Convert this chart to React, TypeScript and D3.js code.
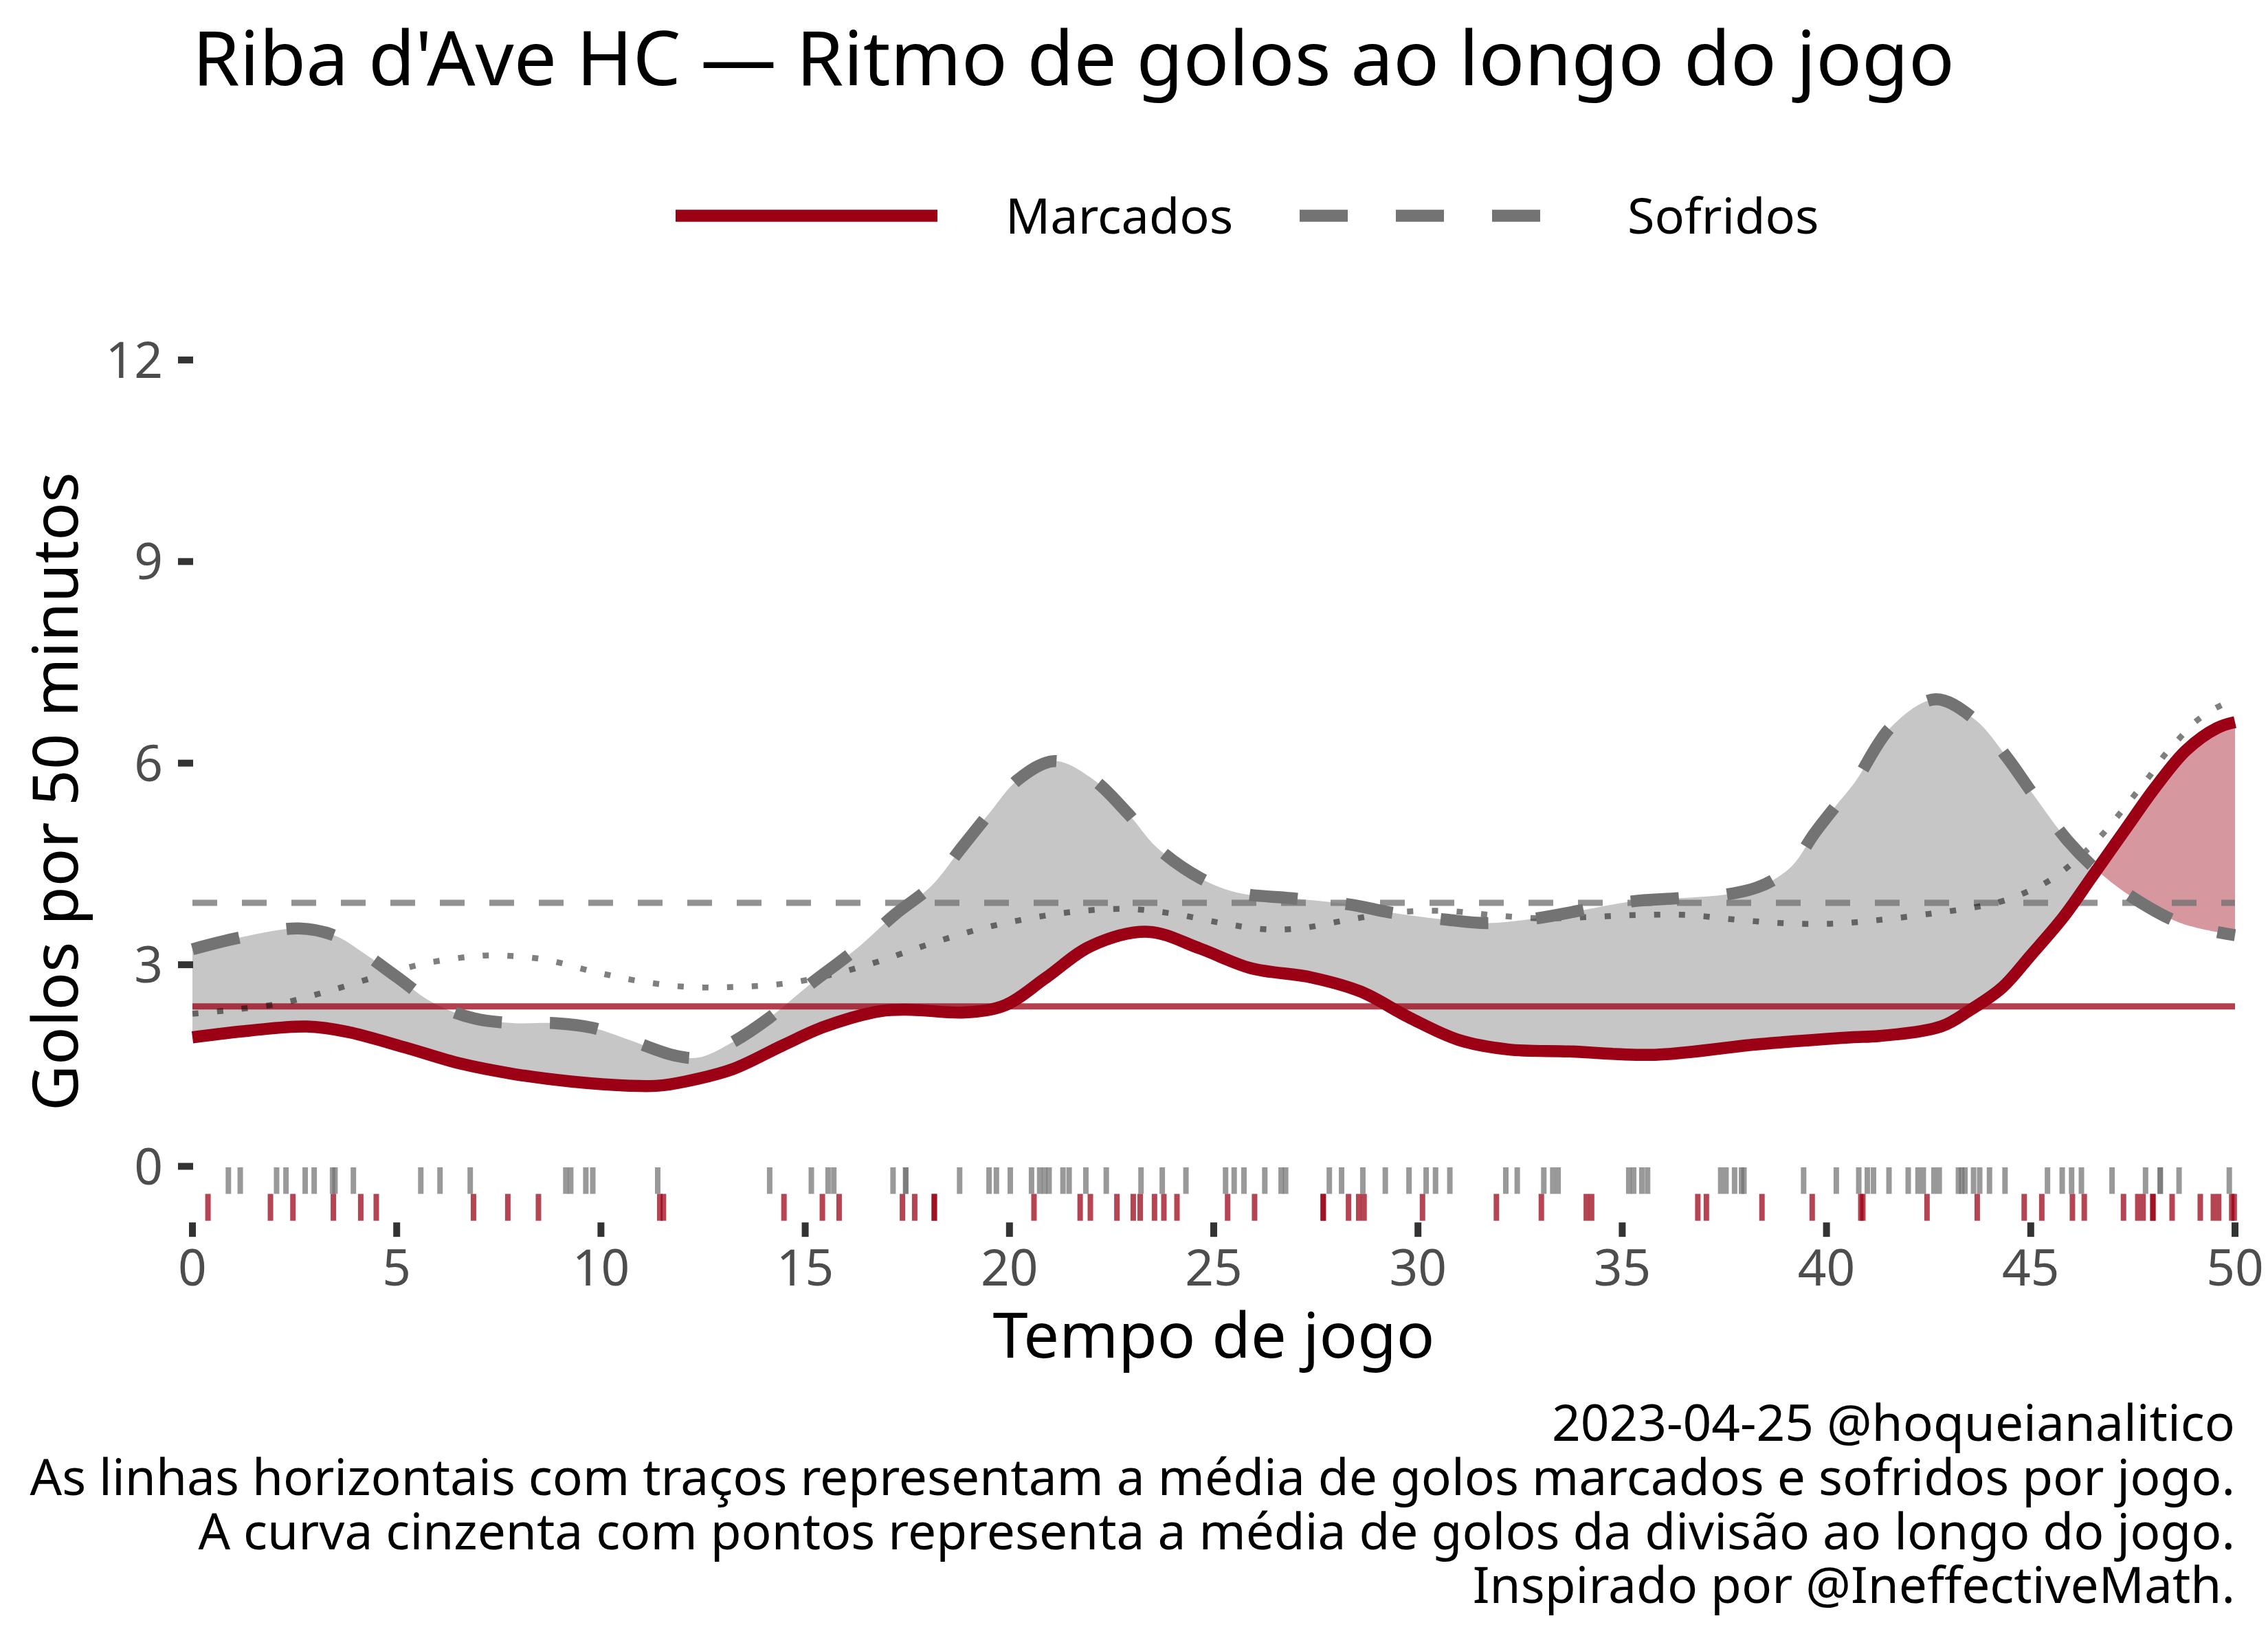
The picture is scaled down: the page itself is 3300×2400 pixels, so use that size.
import React from 'react';
import * as d3 from 'd3';

// ---------- data ----------
const TITLE = "Riba d'Ave HC — Ritmo de golos ao longo do jogo";
const legendLabels = ['Marcados', 'Sofridos'];
const xTicks = [0, 5, 10, 15, 20, 25, 30, 35, 40, 45, 50];
const yTicks = [0, 3, 6, 9, 12];
const xTitle = 'Tempo de jogo';
const yTitle = 'Golos por 50 minutos';
const captionLines = [
  '2023-04-25 @hoqueianalitico',
  'As linhas horizontais com traços representam a média de golos marcados e sofridos por jogo.',
  'A curva cinzenta com pontos representa a média de golos da divisão ao longo do jogo.',
  'Inspirado por @IneffectiveMath.',
];

const sofridosMin = [0, 1.2, 2.6, 3.5, 4.2, 5.0, 5.9, 6.9, 7.9, 8.9, 9.8, 10.7, 11.8, 12.4, 13.2, 14.1, 15.1, 16.2, 17.2, 18.1, 18.8, 19.5, 20.2, 21.1, 22.0, 22.9, 23.6, 24.7, 25.6, 26.9, 28.4, 29.3, 30.7, 31.7, 32.9, 34.0, 35.2, 36.4, 37.6, 38.3, 38.8, 39.2, 39.7, 40.25, 40.7, 41.6, 42.67, 43.65, 44.4, 45.1, 45.9, 46.65, 47.5, 48.67, 50];
const sofridosVal = [3.23, 3.41, 3.54, 3.43, 3.17, 2.82, 2.43, 2.2, 2.13, 2.13, 2.06, 1.88, 1.65, 1.62, 1.84, 2.2, 2.7, 3.21, 3.75, 4.18, 4.72, 5.25, 5.75, 6.03, 5.78, 5.25, 4.75, 4.28, 4.07, 3.99, 3.89, 3.78, 3.67, 3.62, 3.69, 3.81, 3.94, 3.99, 4.05, 4.15, 4.3, 4.5, 4.95, 5.38, 5.72, 6.55, 6.95, 6.64, 6.1, 5.5, 4.85, 4.39, 4.0, 3.62, 3.44];

const marcadosMin = [0, 1.4, 2.8, 3.8, 5.2, 6.55, 7.9, 9.3, 10.7, 11.4, 12.05, 13.24, 14.45, 15.48, 16.85, 17.6, 18.9, 19.9, 20.9, 22.0, 23.4, 24.67, 25.9, 27.4, 28.6, 29.8, 31.0, 32.2, 33.7, 35.8, 38.2, 39.0, 40.6, 41.3, 42.8, 43.5, 44.3, 45.0, 45.8, 46.5, 47.3, 48.05, 48.8, 49.55, 50];
const marcadosVal = [1.92, 2.02, 2.08, 2.0, 1.77, 1.53, 1.37, 1.26, 1.2, 1.2, 1.26, 1.45, 1.8, 2.08, 2.31, 2.33, 2.29, 2.4, 2.81, 3.28, 3.49, 3.24, 2.95, 2.81, 2.6, 2.21, 1.88, 1.74, 1.71, 1.66, 1.81, 1.85, 1.92, 1.94, 2.08, 2.32, 2.66, 3.14, 3.71, 4.31, 5.0, 5.64, 6.19, 6.52, 6.61];

const divisaoMin = [0, 1.0, 2.2, 3.4, 4.6, 5.7, 6.8, 7.4, 8.6, 9.8, 10.9, 12.1, 13.3, 14.5, 15.7, 16.8, 18.0, 19.2, 20.4, 21.6, 22.9, 24.0, 25.2, 26.2, 27.1, 28.3, 29.5, 30.7, 31.8, 33.0, 34.2, 35.4, 36.6, 37.8, 38.9, 40.1, 41.35, 42.56, 43.16, 43.76, 44.33, 44.89, 45.42, 45.9, 46.35, 46.77, 47.14, 47.52, 47.9, 48.25, 48.64, 49.06, 49.56, 50];
const divisaoVal = [2.27, 2.33, 2.43, 2.62, 2.84, 3.02, 3.12, 3.14, 3.08, 2.9, 2.76, 2.67, 2.67, 2.72, 2.86, 3.05, 3.3, 3.52, 3.68, 3.79, 3.83, 3.76, 3.62, 3.53, 3.54, 3.67, 3.78, 3.8, 3.74, 3.69, 3.71, 3.74, 3.74, 3.67, 3.62, 3.61, 3.67, 3.76, 3.81, 3.87, 3.95, 4.08, 4.24, 4.45, 4.69, 4.95, 5.22, 5.51, 5.8, 6.1, 6.37, 6.63, 6.83, 6.95];

const mediaMarcados = 2.38;
const mediaSofridos = 3.92;

const golosSofridos = [0.88, 1.17, 2.06, 2.29, 2.76, 2.98, 3.43, 3.49, 3.94, 5.59, 6.06, 6.8, 9.14, 9.26, 9.63, 9.8, 11.39, 14.13, 15.15, 15.56, 15.7, 17.15, 17.46, 17.46, 18.78, 19.5, 19.68, 20.02, 20.54, 20.74, 20.86, 20.97, 21.31, 21.46, 21.87, 22.37, 23.22, 23.74, 24.32, 25.29, 25.5, 25.74, 26.25, 26.65, 26.76, 27.83, 28.13, 28.65, 29.2, 29.78, 30.2, 30.43, 30.78, 32.15, 32.43, 33.08, 33.3, 33.43, 35.16, 35.28, 35.48, 35.62, 37.41, 37.54, 37.75, 37.92, 37.98, 39.44, 40.24, 40.79, 41.0, 41.15, 41.53, 42.0, 42.24, 42.37, 42.63, 42.76, 43.23, 43.31, 43.39, 43.6, 43.75, 43.99, 44.37, 45.41, 45.77, 46.0, 46.24, 46.99, 47.81, 48.17, 48.17, 48.63, 49.86];
const golosMarcados = [0.38, 1.91, 2.46, 3.45, 4.12, 4.5, 6.88, 7.72, 8.47, 11.44, 11.53, 14.48, 15.42, 15.83, 17.38, 17.68, 18.16, 18.16, 20.6, 21.73, 21.98, 22.63, 23.03, 23.2, 23.55, 23.78, 24.1, 25.34, 26.0, 27.68, 27.68, 28.3, 28.55, 28.68, 30.11, 31.92, 33.02, 34.12, 34.25, 36.85, 37.06, 38.42, 39.65, 40.84, 40.89, 42.46, 43.69, 44.84, 45.27, 46.02, 46.31, 47.27, 47.62, 47.75, 47.99, 47.99, 48.46, 49.15, 49.47, 49.6, 49.92, 49.98];

// ---------- styling ----------
const RED = '#9b0014';
const GREY = '#737373';
const FILL_GREY = '#c6c6c6';
const FILL_RED = '#d6979e';
const FONT = "'Noto Sans', 'Open Sans', sans-serif";
const W = 3300;
const H = 2400;

export default function App() {
  const x = d3.scaleLinear().domain([0, 50]).range([280, 3252]);
  const y = d3.scaleLinear().domain([0, 12]).range([1697.5, 523.9]);

  const sof = sofridosMin.map((m, i) => [m, sofridosVal[i]] as [number, number]);
  const mar = marcadosMin.map((m, i) => [m, marcadosVal[i]] as [number, number]);
  const div = divisaoMin.map((m, i) => [m, divisaoVal[i]] as [number, number]);

  const curve = d3.curveCatmullRom.alpha(0.5);
  const line = d3
    .line<[number, number]>()
    .x((d) => x(d[0]))
    .y((d) => y(d[1]))
    .curve(curve);

  const bottomPx = y(-1.2);
  const topPx = y(13);
  const below = d3
    .area<[number, number]>()
    .x((d) => x(d[0]))
    .y0(bottomPx)
    .y1((d) => y(d[1]))
    .curve(curve);
  const above = d3
    .area<[number, number]>()
    .x((d) => x(d[0]))
    .y0((d) => y(d[1]))
    .y1(topPx)
    .curve(curve);

  const rugGreyTop = y(-0.015);
  const rugMid = y(-0.41);
  const rugRedBottom = y(-0.81);
  const axisTickTop = y(-0.835);

  return (
    <svg
      width={W}
      height={H}
      viewBox={`0 0 ${W} ${H}`}
      style={{ position: 'absolute', left: 0, top: 0, background: '#fff' }}
      fontFamily={FONT}
    >
      <rect x={0} y={0} width={W} height={H} fill="#fff" />
      <defs>
        <clipPath id="clipBelowSof">
          <path d={below(sof) || ''} />
        </clipPath>
        <clipPath id="clipBelowMar">
          <path d={below(mar) || ''} />
        </clipPath>
      </defs>

      {/* title */}
      <text x={280} y={124} fontSize={110.5} fill="#000">
        {TITLE}
      </text>

      {/* legend */}
      <line x1={983} x2={1364} y1={314} y2={314} stroke={RED} strokeWidth={17.5} />
      <text x={1463} y={340} fontSize={72} fill="#000">
        {legendLabels[0]}
      </text>
      <line
        x1={1891}
        x2={2272}
        y1={314}
        y2={314}
        stroke={GREY}
        strokeWidth={17.5}
        strokeDasharray="70 70"
      />
      <text x={2368} y={340} fontSize={72} fill="#000">
        {legendLabels[1]}
      </text>

      {/* ribbons */}
      <path d={above(mar) || ''} fill={FILL_GREY} clipPath="url(#clipBelowSof)" />
      <path d={above(sof) || ''} fill={FILL_RED} clipPath="url(#clipBelowMar)" />

      {/* mean lines */}
      <line
        x1={x(0)}
        x2={x(50)}
        y1={y(mediaSofridos)}
        y2={y(mediaSofridos)}
        stroke={GREY}
        strokeOpacity={0.78}
        strokeWidth={9}
        strokeDasharray="36 36"
      />
      <line
        x1={x(0)}
        x2={x(50)}
        y1={y(mediaMarcados)}
        y2={y(mediaMarcados)}
        stroke={RED}
        strokeOpacity={0.75}
        strokeWidth={9}
      />

      {/* division average (dotted) */}
      <path
        d={line(div) || ''}
        fill="none"
        stroke="#000"
        strokeOpacity={0.5}
        strokeWidth={8.5}
        strokeDasharray="9 27"
      />

      {/* sofridos (dashed) */}
      <path
        d={line(sof) || ''}
        fill="none"
        stroke={GREY}
        strokeWidth={17.5}
        strokeDasharray="70 70"
      />

      {/* marcados (solid) */}
      <path d={line(mar) || ''} fill="none" stroke={RED} strokeWidth={17.5} strokeLinejoin="round" />

      {/* rugs */}
      {golosSofridos.map((g, i) => (
        <line
          key={`s${i}`}
          x1={x(g)}
          x2={x(g)}
          y1={rugGreyTop}
          y2={rugMid}
          stroke={GREY}
          strokeOpacity={0.73}
          strokeWidth={8}
        />
      ))}
      {golosMarcados.map((g, i) => (
        <line
          key={`m${i}`}
          x1={x(g)}
          x2={x(g)}
          y1={rugMid}
          y2={rugRedBottom}
          stroke={RED}
          strokeOpacity={0.73}
          strokeWidth={8}
        />
      ))}

      {/* y axis */}
      {yTicks.map((t) => (
        <g key={`yt${t}`}>
          <line x1={259} x2={281} y1={y(t)} y2={y(t)} stroke="#333" strokeWidth={10} />
          <text x={237} y={y(t) + 26} fontSize={73} fill="#4d4d4d" textAnchor="end">
            {t}
          </text>
        </g>
      ))}

      {/* x axis */}
      {xTicks.map((t) => (
        <g key={`xt${t}`}>
          <line x1={x(t)} x2={x(t)} y1={axisTickTop} y2={axisTickTop + 21} stroke="#333" strokeWidth={10} />
          <text x={x(t)} y={1870.6} fontSize={73} fill="#4d4d4d" textAnchor="middle">
            {t}
          </text>
        </g>
      ))}

      {/* axis titles */}
      <text x={(x(0) + x(50)) / 2} y={1976} fontSize={92} fill="#000" textAnchor="middle">
        {xTitle}
      </text>
      <text
        transform={`translate(112.7, 1152) rotate(-90)`}
        fontSize={92}
        fill="#000"
        textAnchor="middle"
      >
        {yTitle}
      </text>

      {/* caption */}
      {captionLines.map((c, i) => (
        <text key={`c${i}`} x={3252} y={2097 + i * 78.8} fontSize={73} fill="#000" textAnchor="end">
          {c}
        </text>
      ))}
    </svg>
  );
}
